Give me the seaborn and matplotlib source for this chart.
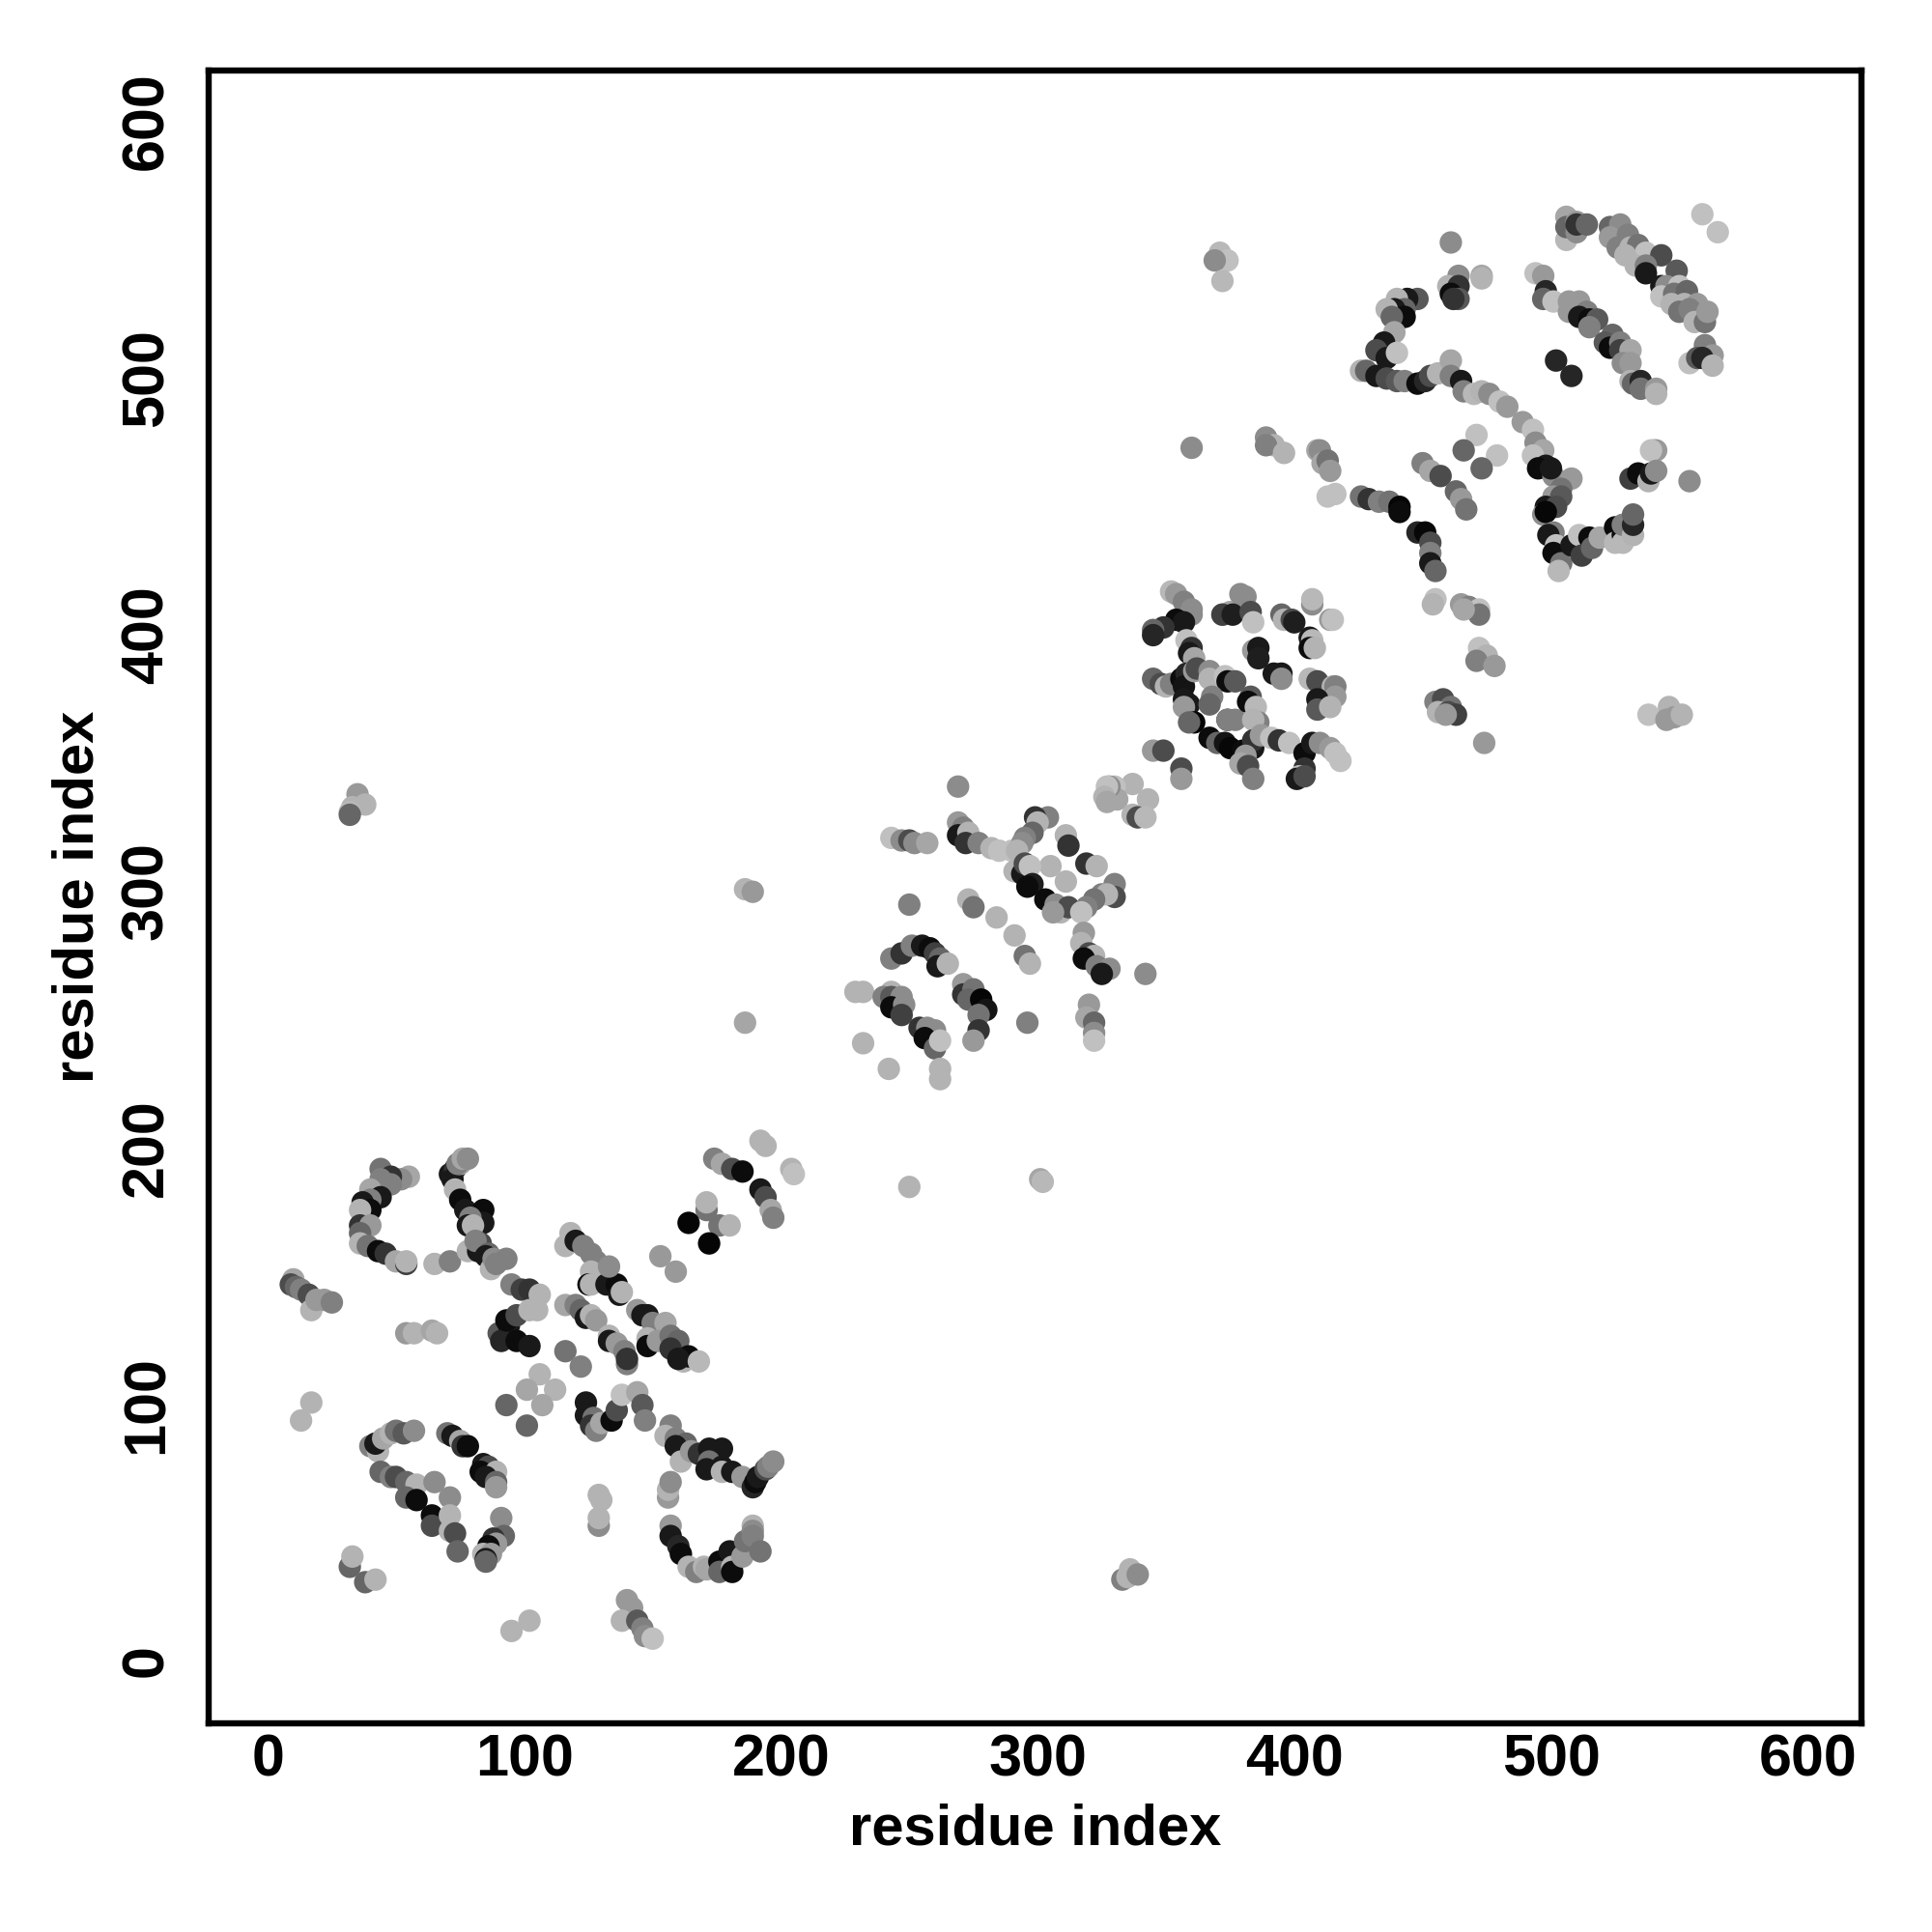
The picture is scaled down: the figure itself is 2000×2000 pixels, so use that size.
import matplotlib
matplotlib.use("Agg")
import matplotlib.pyplot as plt
from matplotlib.transforms import ScaledTranslation
import pandas as pd
import seaborn as sns

# contact map values: residue i, residue j, grey level (0 black, 1 white)
arc_a_i = [44, 55, 52, 48, 48, 44, 40, 44, 40, 37, 40, 36, 36, 40, 36, 36, 39, 43, 46, 50, 54, 54, 65, 71]
arc_a_j = [193, 190, 189, 190, 187, 189, 185, 182, 181, 180, 177, 177, 171, 171, 168, 164, 163, 161, 160, 157, 156, 157, 156, 157]
arc_a_g = [.45, .65, .55, .2, .5, .5, .65, .1, .5, .1, .05, .7, .2, .6, .4, .7, .45, .05, .2, .65, .25, .7, .7, .5]

arc_b_i = [71, 73, 72, 75, 74, 76, 78, 73, 75, 77, 84, 84, 79, 78, 80, 83, 78, 82, 81, 86, 85, 87, 88, 89, 93]
arc_b_j = [191, 193, 189, 195, 195, 197, 197, 185, 181, 177, 177, 172, 174, 171, 171, 164, 161, 161, 165, 160, 159, 154, 158, 156, 158]
arc_b_g = [.1, .2, .1, .65, .5, .65, .55, .7, .05, .1, .05, .1, .5, .1, .7, .3, .7, .1, .5, .4, .1, .7, .55, .5, .5]

strand_c_i = [10, 9, 11, 13, 16, 17, 19, 22, 25]
strand_c_j = [150, 148, 147, 146, 144, 138, 142, 142, 141]
strand_c_g = [.65, .3, .4, .5, .3, .7, .6, .6, .5]

pairs_d_i = [54, 57, 64, 66, 95, 99, 102, 106]
pairs_d_j = [129, 129, 130, 129, 148, 146, 146, 144]
pairs_d_g = [.6, .7, .65, .7, .5, .25, .2, .7]

patch_g_i = [90, 94, 91, 93, 97, 97, 102, 102, 105]
patch_g_j = [129, 132, 126, 134, 126, 136, 124, 138, 138]
patch_g_g = [.35, .1, .15, .05, .05, .3, .1, .7, .7]

strand_h_i = [118, 116, 120, 123, 126, 128, 126, 125, 126, 132, 136, 137, 138, 133]
strand_h_j = [168, 163, 165, 163, 160, 157, 153, 148, 148, 148, 148, 144, 145, 155]
strand_h_g = [.7, .7, .1, .5, .5, .5, .7, .05, .7, .1, .05, .1, .7, .55]

strand_i_i = [116, 120, 122, 124, 126, 128, 133, 133, 136, 139, 140, 140]
strand_i_j = [140, 140, 138, 135, 136, 134, 128, 126, 125, 122, 117, 119]
strand_i_g = [.65, .5, .4, .1, .7, .6, .7, .1, .6, .5, .5, .2]

strand_k_i = [144, 146, 148, 150, 155, 148, 148, 152, 157, 160, 157, 162, 164, 160, 168]
strand_k_j = [138, 136, 136, 133, 133, 127, 124, 126, 128, 126, 123, 118, 120, 119, 118]
strand_k_g = [.6, .1, .1, .5, .65, .7, .05, .6, .45, .4, .2, .7, .05, .1, .72]

loose_a_i = [153, 159, 116, 122, 106, 101, 112, 93, 107, 101, 17, 13]
loose_a_j = [159, 153, 122, 116, 113, 107, 107, 101, 101, 93, 102, 95]
loose_a_g = [.6, .6, .45, .5, .7, .65, .7, .4, .65, .4, .7, .7]

turn_l_i = [124, 124, 127, 126, 128, 130, 134, 136, 138, 144, 146, 147]
turn_l_j = [102, 97, 96, 93, 91, 94, 95, 99, 105, 106, 101, 95]
turn_l_g = [.1, .1, .45, .2, .5, .65, .05, .3, .75, .65, .35, .5]

arc_m_i = [157, 155, 159, 163, 159, 161, 165, 168, 172, 177, 172, 171, 177, 177, 181, 185, 189, 190, 191, 194, 195, 197]
arc_m_j = [93, 89, 88, 86, 85, 79, 83, 82, 84, 84, 79, 76, 77, 75, 75, 73, 69, 71, 73, 76, 77, 79]
arc_m_g = [.5, .7, .5, .4, .1, .7, .6, .2, .1, .1, .45, .1, .1, .7, .1, .6, .15, .05, .1, .3, .5, .55]

arc_n_i = [40, 43, 42, 45, 48, 50, 53, 57, 70, 72, 75, 76, 78]
arc_n_j = [85, 83, 86, 88, 90, 91, 90, 91, 90, 89, 87, 85, 85]
arc_n_g = [.5, .7, .1, .65, .7, .45, .35, .55, .45, .1, .65, .2, .05]

arc_o_i = [84, 86, 83, 89, 85, 89, 89, 44, 48, 50, 54, 58, 54, 58, 65, 71]
arc_o_j = [78, 77, 75, 75, 73, 71, 69, 75, 73, 73, 71, 70, 65, 64, 71, 65]
arc_o_g = [.1, .3, .05, .7, .1, .4, .6, .4, .5, .3, .4, .7, .4, .05, .55, .55]

arc_q_i = [64, 64, 71, 71, 73, 74, 91, 92, 88, 89, 86, 84, 87, 85, 85]
arc_q_j = [58, 54, 58, 52, 51, 44, 57, 50, 49, 47, 46, 43, 43, 41, 40]
arc_q_g = [.05, .3, .7, .7, .3, .4, .55, .4, .2, .6, .05, .7, .6, .1, .4]

corner_s_i = [32, 33, 38, 42, 95, 102, 140, 142, 138, 144, 146, 147, 150]
corner_s_j = [38, 42, 32, 33, 13, 17, 25, 22, 17, 17, 14, 11, 10]
corner_s_g = [.4, .7, .4, .7, .7, .7, .6, .6, .7, .35, .5, .55, .75]

column_v_i = [129, 130, 129, 129, 156, 156, 157]
column_v_j = [66, 64, 54, 57, 65, 68, 71]
column_v_g = [.7, .7, .55, .7, .6, .7, .55]

arc_x_i = [157, 157, 160, 161, 164, 167, 170, 171, 176, 176, 180, 181, 181, 185, 186, 189, 189, 189, 192]
arc_x_j = [54, 50, 46, 43, 38, 36, 38, 37, 40, 36, 44, 38, 36, 42, 48, 54, 52, 50, 44]
arc_x_g = [.6, .1, .15, .05, .7, .5, .7, .65, .05, .4, .1, .7, .05, .6, .45, .7, .55, .5, .45]

cross_y_i = [174, 177, 181, 185, 192, 194, 196, 197, 192, 194, 204, 205, 171, 171, 164, 176, 180, 172]
cross_y_j = [197, 195, 193, 192, 185, 182, 177, 174, 204, 202, 193, 191, 177, 180, 172, 171, 171, 164]
cross_y_g = [.5, .65, .3, .05, .1, .3, .65, .5, .7, .7, .7, .75, .45, .7, .02, .45, .7, .02]

strand_z_i = [269, 243, 247, 250, 252, 257, 269, 271, 269, 273, 272, 277, 282, 285, 290]
strand_z_j = [342, 322, 321, 321, 320, 320, 328, 326, 323, 324, 320, 320, 318, 317, 317]
strand_z_g = [.55, .75, .55, .3, .55, .65, .6, .5, .1, .7, .2, .5, .7, .75, .75]

arm_b_i = [304, 299, 300, 298, 295, 294, 292, 311, 312, 319, 323, 305, 311, 291, 294, 295, 297, 298, 296]
arm_b_j = [330, 330, 328, 324, 322, 320, 317, 323, 319, 312, 311, 311, 305, 309, 308, 312, 311, 304, 303]
arm_b_g = [.5, .2, .7, .4, .5, .55, .7, .7, .2, .2, .7, .7, .7, .7, .1, .3, .75, .12, .05]

arm_c_i = [303, 307, 309, 312, 306, 330, 330, 325, 327, 322, 319, 317, 318, 317, 320, 322, 318, 323, 328, 325]
arm_c_j = [298, 296, 293, 295, 293, 304, 299, 300, 300, 298, 295, 293, 285, 281, 277, 276, 275, 272, 271, 269]
arm_c_g = [.05, .55, .7, .3, .6, .5, .3, .5, .7, .45, .5, .75, .6, .7, .3, .7, .05, .5, .55, .1]

loose_b_i = [342, 320, 319, 322, 322, 322, 250, 273, 275, 284, 291, 295, 297, 296, 186, 189, 186]
loose_b_j = [269, 257, 252, 250, 246, 243, 296, 298, 295, 291, 284, 276, 273, 250, 302, 301, 250]
loose_b_g = [.55, .6, .65, .4, .55, .75, .5, .7, .45, .7, .7, .45, .7, .5, .7, .6, .65]

arc_d_i = [243, 247, 251, 255, 258, 260, 262, 261, 265, 271, 271, 275, 273, 278, 280, 277, 277, 275]
arc_d_j = [275, 277, 280, 280, 279, 277, 275, 272, 273, 265, 261, 263, 259, 259, 255, 253, 247, 243]
arc_d_g = [.5, .2, .5, .1, .05, .25, .4, .1, .7, .6, .2, .45, .4, .02, .08, .45, .2, .6]

arc_e_i = [229, 232, 243, 240, 243, 247, 243, 248, 247, 254, 257, 260, 256, 260, 262, 232, 242, 262, 262]
arc_e_j = [262, 262, 262, 260, 260, 260, 256, 257, 253, 248, 248, 247, 244, 240, 243, 242, 232, 232, 228]
arc_e_g = [.7, .7, .7, .5, .35, .55, .05, .55, .25, .2, .55, .55, .05, .4, .75, .7, .7, .7, .7]

lone_b_i = [250, 301, 302, 35, 38, 33, 32, 32, 371, 374, 369, 372, 333, 335, 336, 339, 360]
lone_b_j = [186, 189, 188, 339, 335, 334, 332, 331, 550, 547, 547, 539, 33, 34, 37, 35, 474]
lone_b_g = [.7, .65, .72, .6, .7, .7, .72, .4, .72, .75, .55, .72, .5, .7, .7, .55, .55]

core_a_i = [352, 354, 357, 360, 360, 354, 357, 349, 345, 345, 358, 360, 359, 361]
core_a_j = [418, 417, 414, 411, 409, 407, 406, 404, 403, 401, 399, 396, 394, 392]
core_a_g = [.72, .6, .5, .55, .55, .05, .1, .2, .4, .15, .75, .2, .1, .65]

core_b_i = [372, 375, 379, 381, 372, 376, 383, 384, 395, 396, 399, 400, 407, 407, 414, 415, 406, 407, 406, 408]
core_b_j = [409, 410, 417, 416, 409, 409, 410, 406, 409, 407, 407, 406, 413, 415, 407, 407, 400, 399, 396, 396]
core_b_g = [.6, .65, .55, .55, .25, .12, .3, .75, .4, .7, .3, .12, .55, .72, .6, .75, .1, .72, .05, .7]

core_c_i = [384, 386, 386, 392, 395, 395, 345, 348, 350, 352, 356, 358, 357, 361, 362, 367, 367, 373, 374, 377]
core_c_j = [395, 396, 392, 386, 386, 384, 384, 382, 381, 382, 384, 386, 381, 387, 388, 387, 384, 385, 383, 383]
core_c_g = [.6, .1, .12, .1, .1, .55, .4, .3, .7, .5, .05, .15, .08, .6, .3, .55, .7, .75, .05, .35]

core_d_i = [406, 409, 415, 416, 416, 409, 409, 414, 357, 359, 357, 361, 359, 368, 367, 374, 377, 374, 383, 382, 385, 386, 384]
core_d_j = [384, 383, 381, 381, 377, 376, 372, 373, 376, 374, 373, 367, 367, 377, 374, 368, 368, 368, 377, 375, 373, 367, 368]
core_d_g = [.72, .3, .7, .5, .6, .1, .35, .7, .1, .1, .6, .02, .4, .5, .4, .15, .5, .5, .35, .05, .72, .5, .7]

core_e_i = [367, 370, 373, 375, 380, 384, 384, 387, 391, 394, 398, 404, 407, 410, 414, 416, 418, 381, 379, 382, 384]
core_e_j = [361, 359, 359, 357, 356, 357, 360, 362, 361, 360, 359, 355, 359, 359, 357, 355, 352, 354, 351, 350, 345]
core_e_g = [.05, .4, .08, .03, .05, .1, .2, .6, .75, .2, .75, .05, .1, .55, .6, .75, .75, .6, .65, .3, .5]

core_f_i = [404, 402, 401, 404, 345, 349, 356, 356, 337, 343, 330, 331, 337, 339, 342, 328, 327, 326, 327]
core_f_j = [349, 346, 345, 346, 356, 356, 349, 345, 343, 337, 342, 337, 331, 330, 330, 342, 342, 338, 336]
core_f_g = [.2, .75, .1, .3, .6, .3, .3, .6, .7, .7, .75, .65, .7, .3, .72, .55, .75, .7, .65]

turn_a_i = [461, 473, 473, 464, 460, 464, 461, 464, 462, 448, 444, 440, 443, 439, 436, 443, 438, 439, 435, 432, 436, 440]
turn_a_j = [554, 541, 540, 541, 537, 537, 534, 532, 532, 532, 532, 532, 528, 528, 528, 525, 525, 519, 515, 512, 509, 511]
turn_a_g = [.55, .65, .7, .55, .7, .2, .05, .35, .2, .35, .1, .7, .4, .1, .7, .05, .4, .65, .1, .3, .1, .75]

turn_b_i = [426, 428, 432, 436, 440, 443, 448, 451, 453, 456, 461, 461, 465, 466, 470, 473, 476, 480, 483]
turn_b_j = [504, 504, 502, 501, 500, 500, 499, 500, 502, 503, 508, 502, 500, 496, 495, 496, 495, 492, 490]
turn_b_g = [.7, .4, .1, .3, .35, .5, .05, .15, .3, .7, .65, .5, .1, .5, .72, .7, .55, .75, .6]

turn_c_i = [489, 493, 494, 497, 493, 498, 495, 501, 500, 508, 504, 501, 504, 498, 502, 497, 498, 501, 499, 502, 501, 504, 503]
turn_c_j = [484, 481, 476, 473, 471, 467, 466, 463, 466, 462, 458, 455, 455, 451, 451, 448, 449, 441, 440, 436, 433, 429, 426]
turn_c_g = [.6, .75, .55, .65, .75, .1, .05, .55, .1, .6, .45, .6, .35, .1, .3, .55, .03, .5, .1, .75, .05, .45, .72]

turn_d_i = [508, 511, 512, 515, 516, 519, 525, 525, 528, 528, 528, 532, 532, 532]
turn_d_j = [436, 440, 432, 439, 435, 439, 443, 437, 440, 437, 444, 440, 444, 448]
turn_d_g = [.1, .75, .25, .05, .4, .65, .05, .72, .05, .72, .5, .7, .15, .4]

top_a_i = [506, 506, 506, 510, 510, 510, 514, 523, 527, 523, 526, 530, 531, 534, 537, 543, 529, 533, 537, 537, 549, 559, 565]
top_a_j = [555, 564, 560, 562, 558, 561, 561, 560, 561, 556, 552, 557, 552, 553, 550, 549, 549, 545, 545, 542, 543, 565, 558]
top_a_g = [.72, .65, .4, .6, .55, .2, .4, .4, .55, .6, .5, .5, .7, .45, .75, .3, .7, .7, .5, .1, .35, .75, .75]

top_b_i = [494, 497, 498, 497, 501, 507, 511, 507, 514, 511, 515, 518, 515, 524, 521, 523, 527, 527, 531, 528, 531]
top_b_j = [542, 541, 535, 532, 531, 531, 531, 527, 527, 525, 524, 524, 521, 518, 515, 513, 515, 512, 512, 507, 507]
top_b_g = [.75, .6, .15, .4, .75, .6, .6, .6, .5, .1, .05, .35, .5, .4, .35, .05, .5, .25, .65, .55, .6]

top_c_i = [531, 532, 535, 535, 541, 541, 502, 508, 543, 545, 543, 550, 548, 553, 547, 552, 550, 557, 554, 556, 560, 561]
top_c_j = [500, 499, 500, 497, 497, 495, 508, 502, 537, 537, 533, 537, 534, 535, 530, 530, 527, 530, 528, 523, 523, 527]
top_c_g = [.7, .4, .15, .45, .6, .7, .15, .15, .1, .55, .75, .75, .45, .4, .7, .7, .45, .6, .5, .7, .45, .6]

edge_a_i = [560, 563, 554, 557, 559, 563, 389, 392, 389, 396, 409, 410, 411, 413, 414, 413, 416]
edge_a_j = [514, 510, 507, 509, 509, 506, 478, 475, 475, 472, 473, 473, 468, 469, 465, 455, 456]
edge_a_g = [.5, .6, .75, .35, .15, .7, .55, .7, .5, .7, .65, .55, .65, .45, .6, .75, .75]

edge_b_i = [426, 429, 433, 437, 441, 441, 450, 453, 457, 471, 466, 479, 473, 463, 465, 467]
edge_b_j = [455, 454, 453, 453, 451, 449, 468, 465, 463, 479, 473, 471, 466, 457, 454, 450]
edge_b_g = [.45, .2, .5, .45, .02, .05, .5, .65, .3, .75, .4, .75, .4, .4, .6, .45]

edge_c_i = [448, 451, 453, 453, 453, 455, 540, 541, 539, 531, 534, 538, 539, 541, 554]
edge_c_j = [441, 441, 437, 433, 429, 426, 473, 473, 473, 462, 464, 461, 464, 465, 461]
edge_c_g = [.15, .03, .3, .5, .1, .4, .7, .6, .75, .25, .05, .7, .1, .55, .55]

edge_d_i = [455, 454, 465, 468, 472, 472, 466, 472, 475, 471, 478, 474]
edge_d_j = [415, 413, 413, 412, 411, 409, 411, 396, 393, 391, 389, 359]
edge_d_g = [.75, .7, .6, .5, .75, .45, .65, .75, .7, .5, .6, .6]

edge_e_i = [455, 458, 461, 456, 460, 463, 459, 538, 546, 548, 545, 551]
edge_e_j = [375, 376, 373, 371, 371, 370, 370, 370, 373, 369, 368, 370]
edge_e_g = [.5, .3, .45, .7, .3, .25, .6, .75, .7, .6, .6, .7]

clusters = [
    (arc_a_i, arc_a_j, arc_a_g), (arc_b_i, arc_b_j, arc_b_g), (strand_c_i, strand_c_j, strand_c_g),
    (pairs_d_i, pairs_d_j, pairs_d_g), (patch_g_i, patch_g_j, patch_g_g), (strand_h_i, strand_h_j, strand_h_g),
    (strand_i_i, strand_i_j, strand_i_g), (strand_k_i, strand_k_j, strand_k_g), (loose_a_i, loose_a_j, loose_a_g),
    (turn_l_i, turn_l_j, turn_l_g), (arc_m_i, arc_m_j, arc_m_g), (arc_n_i, arc_n_j, arc_n_g),
    (arc_o_i, arc_o_j, arc_o_g), (arc_q_i, arc_q_j, arc_q_g), (corner_s_i, corner_s_j, corner_s_g),
    (column_v_i, column_v_j, column_v_g), (arc_x_i, arc_x_j, arc_x_g), (cross_y_i, cross_y_j, cross_y_g),
    (strand_z_i, strand_z_j, strand_z_g), (arm_b_i, arm_b_j, arm_b_g), (arm_c_i, arm_c_j, arm_c_g),
    (loose_b_i, loose_b_j, loose_b_g), (arc_d_i, arc_d_j, arc_d_g), (arc_e_i, arc_e_j, arc_e_g),
    (lone_b_i, lone_b_j, lone_b_g), (core_a_i, core_a_j, core_a_g), (core_b_i, core_b_j, core_b_g),
    (core_c_i, core_c_j, core_c_g), (core_d_i, core_d_j, core_d_g), (core_e_i, core_e_j, core_e_g),
    (core_f_i, core_f_j, core_f_g), (turn_a_i, turn_a_j, turn_a_g), (turn_b_i, turn_b_j, turn_b_g),
    (turn_c_i, turn_c_j, turn_c_g), (turn_d_i, turn_d_j, turn_d_g), (top_a_i, top_a_j, top_a_g),
    (top_b_i, top_b_j, top_b_g), (top_c_i, top_c_j, top_c_g), (edge_a_i, edge_a_j, edge_a_g),
    (edge_b_i, edge_b_j, edge_b_g), (edge_c_i, edge_c_j, edge_c_g), (edge_d_i, edge_d_j, edge_d_g),
    (edge_e_i, edge_e_j, edge_e_g),
]
tick_values = [0, 100, 200, 300, 400, 500, 600]

df = pd.concat([pd.DataFrame({"i": a, "j": b, "grey": c}) for a, b, c in clusters], ignore_index=True)

sns.set_theme(style="white")
plt.rcParams["font.family"] = ["Liberation Sans", "DejaVu Sans"]
plt.rcParams["font.weight"] = "bold"

fig = plt.figure(figsize=(20, 20), dpi=100)
ax = fig.add_axes([0.108, 0.108, 0.8555, 0.8555])

sns.scatterplot(data=df, x="i", y="j", hue="grey", palette="gray", hue_norm=(0, 1),
                s=280, linewidth=0, legend=False, ax=ax)

ax.set_xlim(-23, 621)
ax.set_ylim(-23, 621)
ax.set_xticks(tick_values)
ax.set_yticks(tick_values)
ax.tick_params(axis="x", length=6.5, width=3.4, color="black", labelsize=44, pad=1, labelcolor="black")
ax.tick_params(axis="y", length=6.5, width=3.4, color="black", labelsize=44, pad=18.5, labelcolor="black")
nudge_up = ScaledTranslation(0, 2.5 / 72, fig.dpi_scale_trans)
for label in ax.get_yticklabels():
    label.set_rotation(90)
    label.set_va("center")
    label.set_transform(label.get_transform() + nudge_up)
ax.set_xlabel("residue index", fontsize=43, fontweight="bold", color="black", labelpad=11)
ax.set_ylabel("residue index", fontsize=43, fontweight="bold", color="black", labelpad=11)
for spine in ax.spines.values():
    spine.set_visible(True)
    spine.set_color("black")
    spine.set_linewidth(4.6)

fig.savefig("out.png", dpi=100, facecolor="white")
